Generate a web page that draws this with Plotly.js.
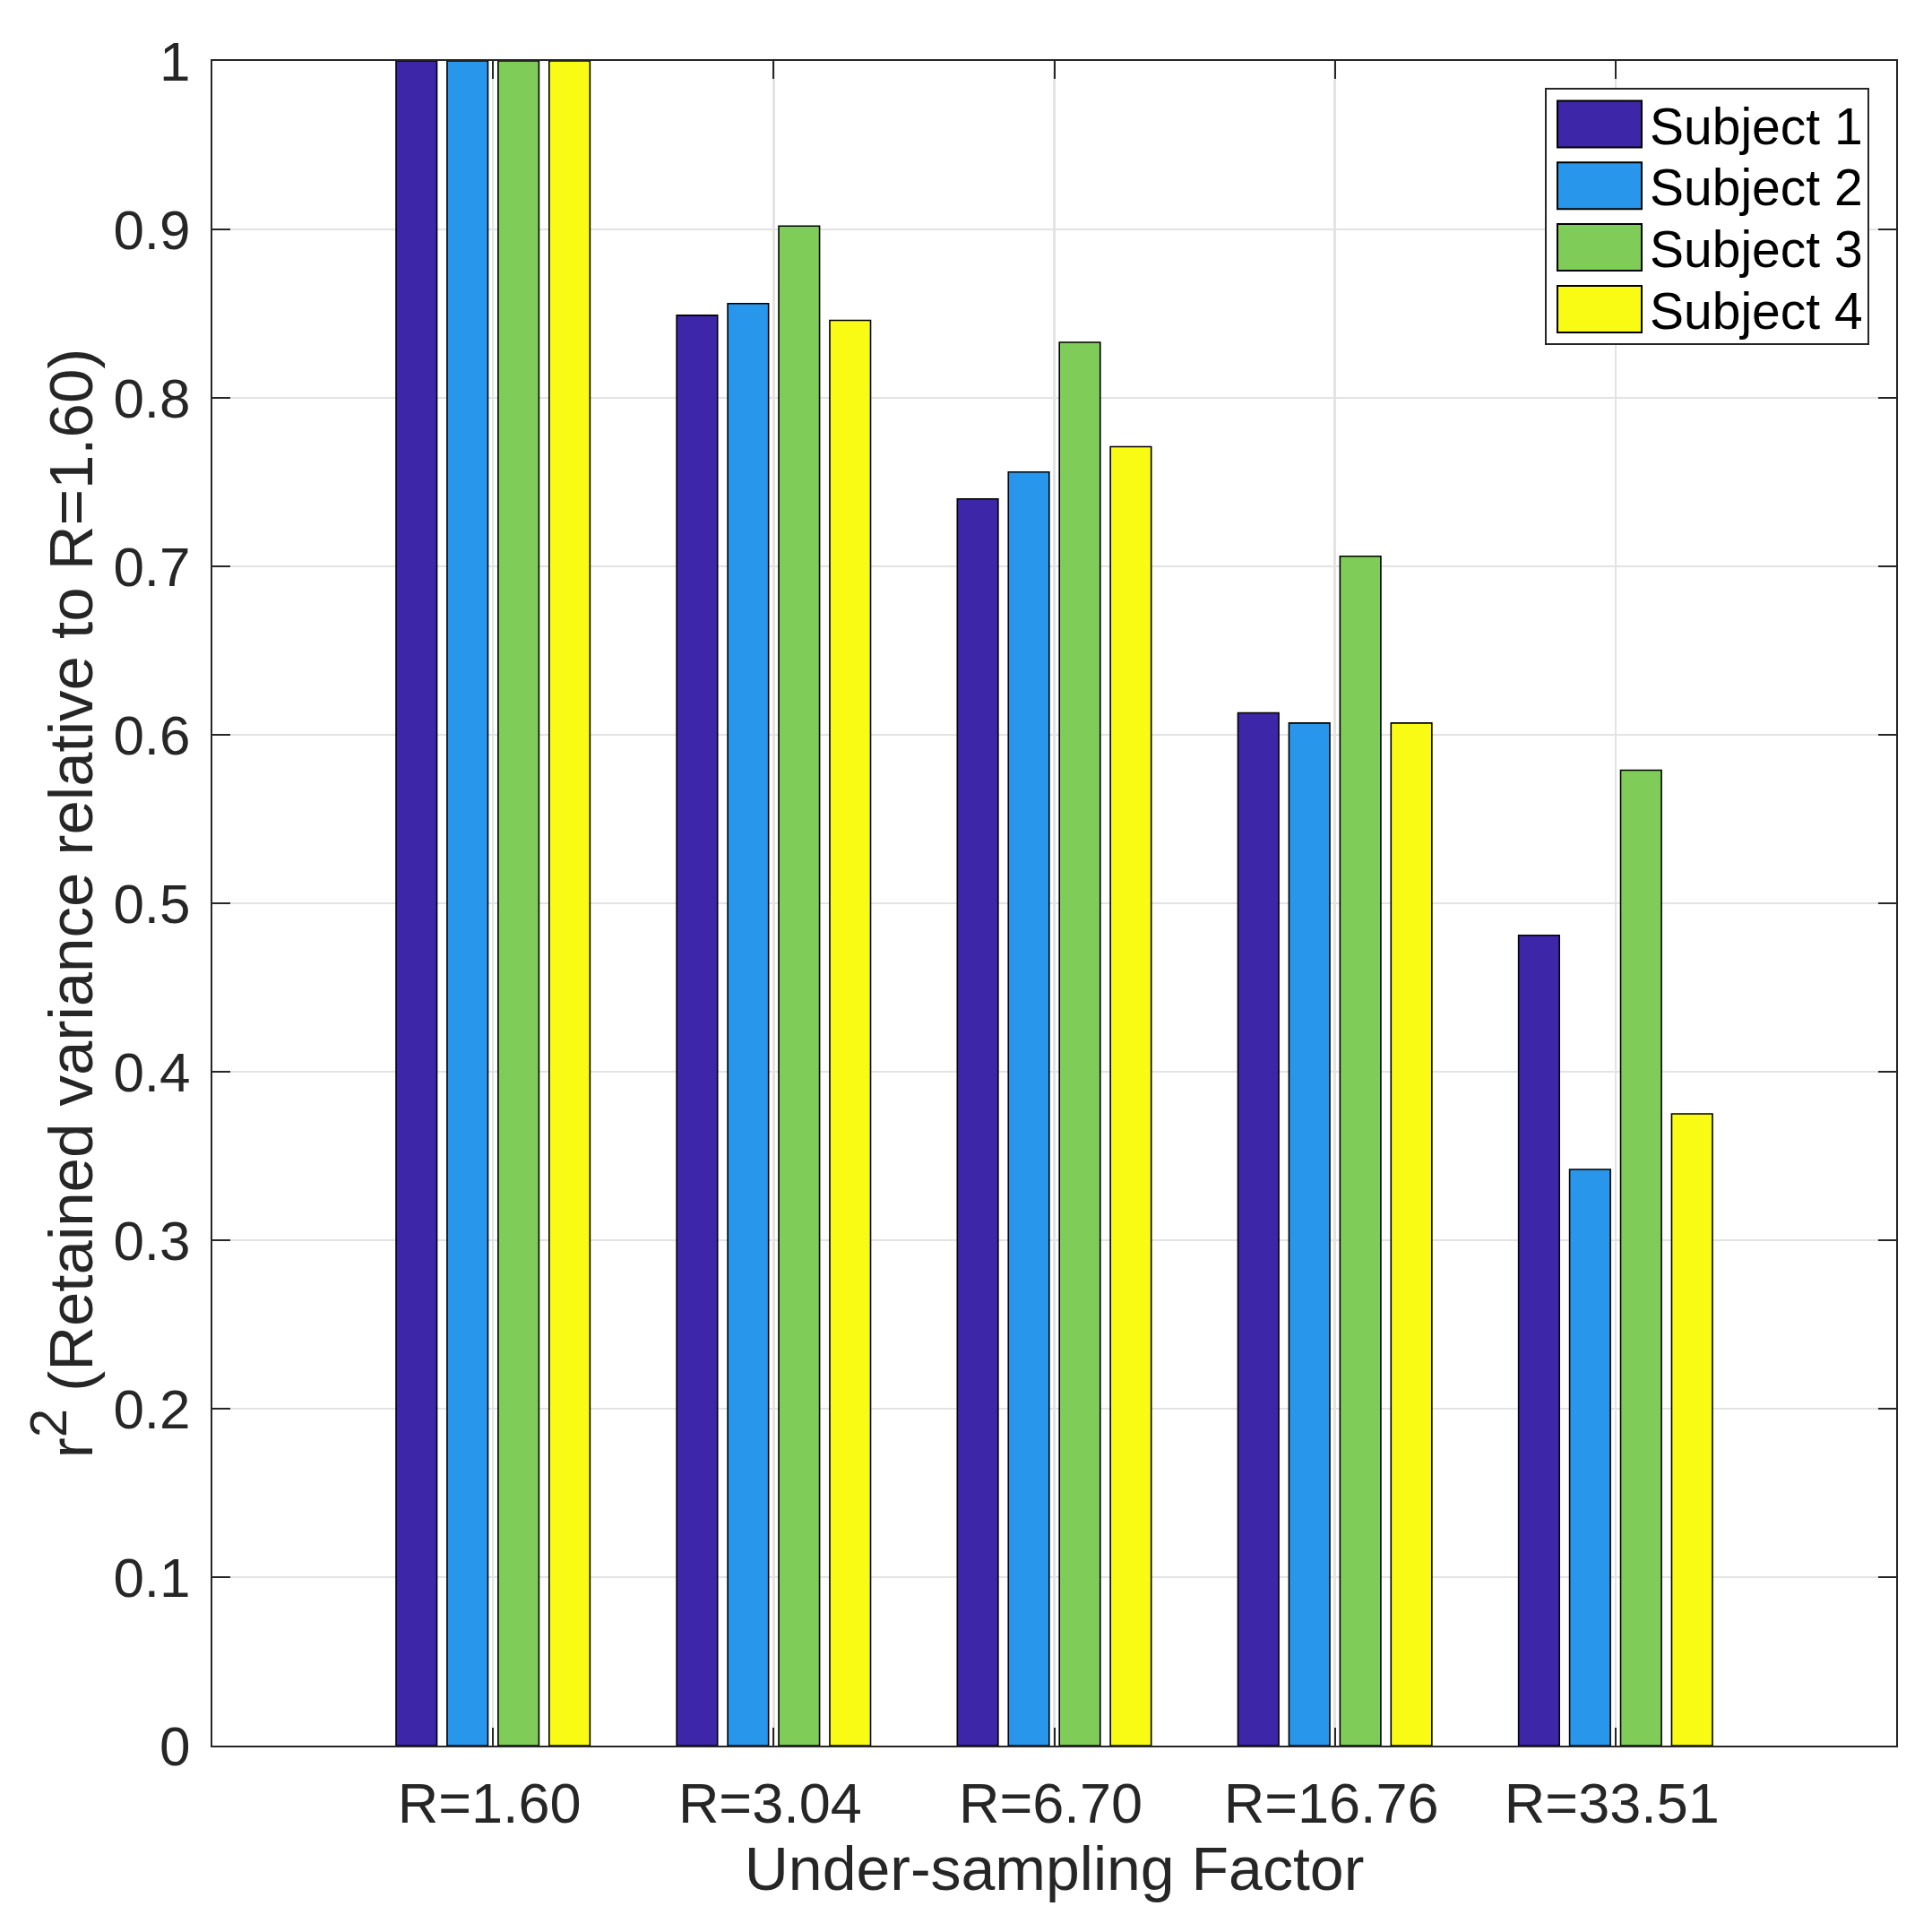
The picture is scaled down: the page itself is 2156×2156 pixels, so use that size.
<!DOCTYPE html>
<html>
<head>
<meta charset="utf-8">
<script src="https://cdn.plot.ly/plotly-3.0.1.min.js"></script>
<style>
  html, body { margin: 0; padding: 0; background: #ffffff; }
  #chart { width: 2156px; height: 2156px; }
</style>
</head>
<body>
<div id="chart"></div>
<script>
// ---- Data ----
const categories = ["R=1.60", "R=3.04", "R=6.70", "R=16.76", "R=33.51"];
const seriesNames = ["Subject 1", "Subject 2", "Subject 3", "Subject 4"];
const subject1 = [1.000, 0.849, 0.740, 0.613, 0.481];
const subject2 = [1.000, 0.856, 0.756, 0.607, 0.342];
const subject3 = [1.000, 0.902, 0.833, 0.706, 0.579];
const subject4 = [1.000, 0.846, 0.771, 0.607, 0.375];
const seriesValues = [subject1, subject2, subject3, subject4];
const seriesColors = ["#3E26A8", "#2796EB", "#80CC59", "#F9FB15"];
const xTitle = "Under-sampling Factor";
const yTitle = "r<sup><span style='font-size:58px'>2</span></sup> (Retained variance relative to R=1.60)";

// ---- Layout geometry (pixels) ----
const W = 2156, H = 2156;
const M = { l: 237, r: 40, t: 68, b: 208 };
const plotW = W - M.l - M.r, plotH = H - M.t - M.b;
const px2x = p => (p - M.l) / plotW;
const px2y = p => (H - M.b - p) / plotH;

const FONT = '"Liberation Sans", Arial, Helvetica, sans-serif';
const AXIS_COLOR = '#262626';

const traces = seriesNames.map((name, i) => ({
  type: 'bar',
  name: name,
  x: categories,
  y: seriesValues[i],
  marker: { color: seriesColors[i], line: { color: '#000000', width: 1.6 } },
  showlegend: false,
  hoverinfo: 'x+y+name'
}));

// ---- Custom legend (large swatches like the reference) ----
const shapes = [];
const annotations = [];
const legBox = { x0: 1725, x1: 2085, y0: 99, y1: 384 };
shapes.push({
  type: 'rect', xref: 'paper', yref: 'paper', layer: 'above',
  x0: px2x(legBox.x0), x1: px2x(legBox.x1), y0: px2y(legBox.y1), y1: px2y(legBox.y0),
  fillcolor: '#ffffff', line: { color: AXIS_COLOR, width: 2 }
});
const rowStart = 138.5, rowStep = 68.8, swH = 52;
seriesNames.forEach((name, i) => {
  const cy = rowStart + i * rowStep;
  shapes.push({
    type: 'rect', xref: 'paper', yref: 'paper', layer: 'above',
    x0: px2x(1738), x1: px2x(1832), y0: px2y(cy + swH / 2), y1: px2y(cy - swH / 2),
    fillcolor: seriesColors[i], line: { color: '#000000', width: 2 }
  });
  annotations.push({
    xref: 'paper', yref: 'paper', x: px2x(1839), y: px2y(cy + 2),
    xanchor: 'left', yanchor: 'middle', showarrow: false,
    text: name, font: { family: FONT, size: 57, color: '#000000' }
  });
});

const layout = {
  width: W, height: H,
  margin: M,
  paper_bgcolor: '#ffffff',
  plot_bgcolor: '#ffffff',
  barmode: 'group',
  bargap: 0.2727,
  bargroupgap: 0.2,
  font: { family: FONT, color: AXIS_COLOR, size: 62 },
  showlegend: false,
  xaxis: {
    type: 'category',
    range: [-1, 5],
    autorange: false,
    showline: true, linecolor: AXIS_COLOR, linewidth: 2, mirror: 'ticks',
    ticks: 'inside', ticklen: 20, tickwidth: 2, tickcolor: AXIS_COLOR,
    showgrid: true, gridcolor: '#e3e3e3', gridwidth: 2.5,
    tickfont: { family: FONT, size: 63, color: AXIS_COLOR },
    ticklabelstandoff: 8,
    ticklabelshift: -4,
    zeroline: false,
    title: { text: xTitle, font: { family: FONT, size: 68, color: AXIS_COLOR }, standoff: 12 },
    automargin: false
  },
  yaxis: {
    range: [0, 1],
    autorange: false,
    dtick: 0.1, tick0: 0,
    showline: true, linecolor: AXIS_COLOR, linewidth: 2, mirror: 'ticks',
    ticks: 'inside', ticklen: 20, tickwidth: 2, tickcolor: AXIS_COLOR,
    showgrid: true, gridcolor: '#e3e3e3', gridwidth: 2.5,
    zeroline: false,
    tickfont: { family: FONT, size: 62, color: AXIS_COLOR },
    ticklabelstandoff: 10,
    title: { text: yTitle, font: { family: FONT, size: 69, color: AXIS_COLOR }, standoff: 0 },
    automargin: false
  },
  shapes: shapes,
  annotations: annotations
};

Plotly.newPlot('chart', traces, layout, { displayModeBar: false, staticPlot: true });
</script>
</body>
</html>
